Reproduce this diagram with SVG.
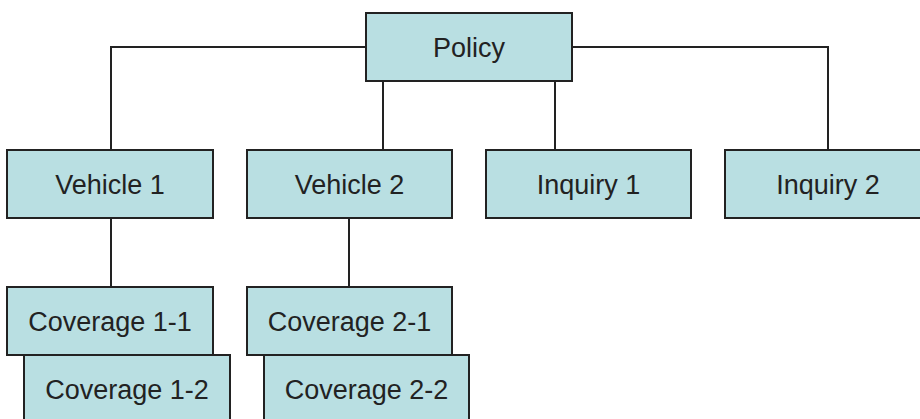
<svg xmlns="http://www.w3.org/2000/svg" width="920" height="419" viewBox="0 0 920 419">
<style>
.box{fill:#b9dfe2;stroke:#222;stroke-width:2}
.lbl{font-family:"Liberation Sans",Arial,sans-serif;font-size:27px;fill:#222;text-anchor:middle}
.ln{stroke:#222;stroke-width:2;fill:none}
</style>
<rect width="920" height="419" fill="#fff"/>
<g id="connectors">
<path class="ln" d="M366 47H111V150"/>
<path class="ln" d="M572 47H828V150"/>
<path class="ln" d="M383 81V150"/>
<path class="ln" d="M555 81V150"/>
<path class="ln" d="M111 218V287"/>
<path class="ln" d="M349 218V287"/>
</g>
<g id="policy"><rect class="box" x="366" y="13" width="206" height="68"/><text class="lbl" x="469" y="57">Policy</text></g>
<g id="vehicle1"><rect class="box" x="7" y="150" width="206" height="68"/><text class="lbl" x="110" y="194">Vehicle 1</text></g>
<g id="vehicle2"><rect class="box" x="247" y="150" width="205" height="68"/><text class="lbl" x="349.5" y="194">Vehicle 2</text></g>
<g id="inquiry1"><rect class="box" x="486" y="150" width="205" height="68"/><text class="lbl" x="588.5" y="194">Inquiry 1</text></g>
<g id="inquiry2"><rect class="box" x="725" y="150" width="206" height="68"/><text class="lbl" x="828" y="194">Inquiry 2</text></g>
<g id="coverage1-1"><rect class="box" x="7" y="287" width="206" height="68"/><text class="lbl" x="110" y="331">Coverage 1-1</text></g>
<g id="coverage1-2"><rect class="box" x="24" y="355" width="206" height="68"/><text class="lbl" x="127" y="399">Coverage 1-2</text></g>
<g id="coverage2-1"><rect class="box" x="247" y="287" width="205" height="68"/><text class="lbl" x="349.5" y="331">Coverage 2-1</text></g>
<g id="coverage2-2"><rect class="box" x="264" y="355" width="205" height="68"/><text class="lbl" x="366.5" y="399">Coverage 2-2</text></g>
</svg>
